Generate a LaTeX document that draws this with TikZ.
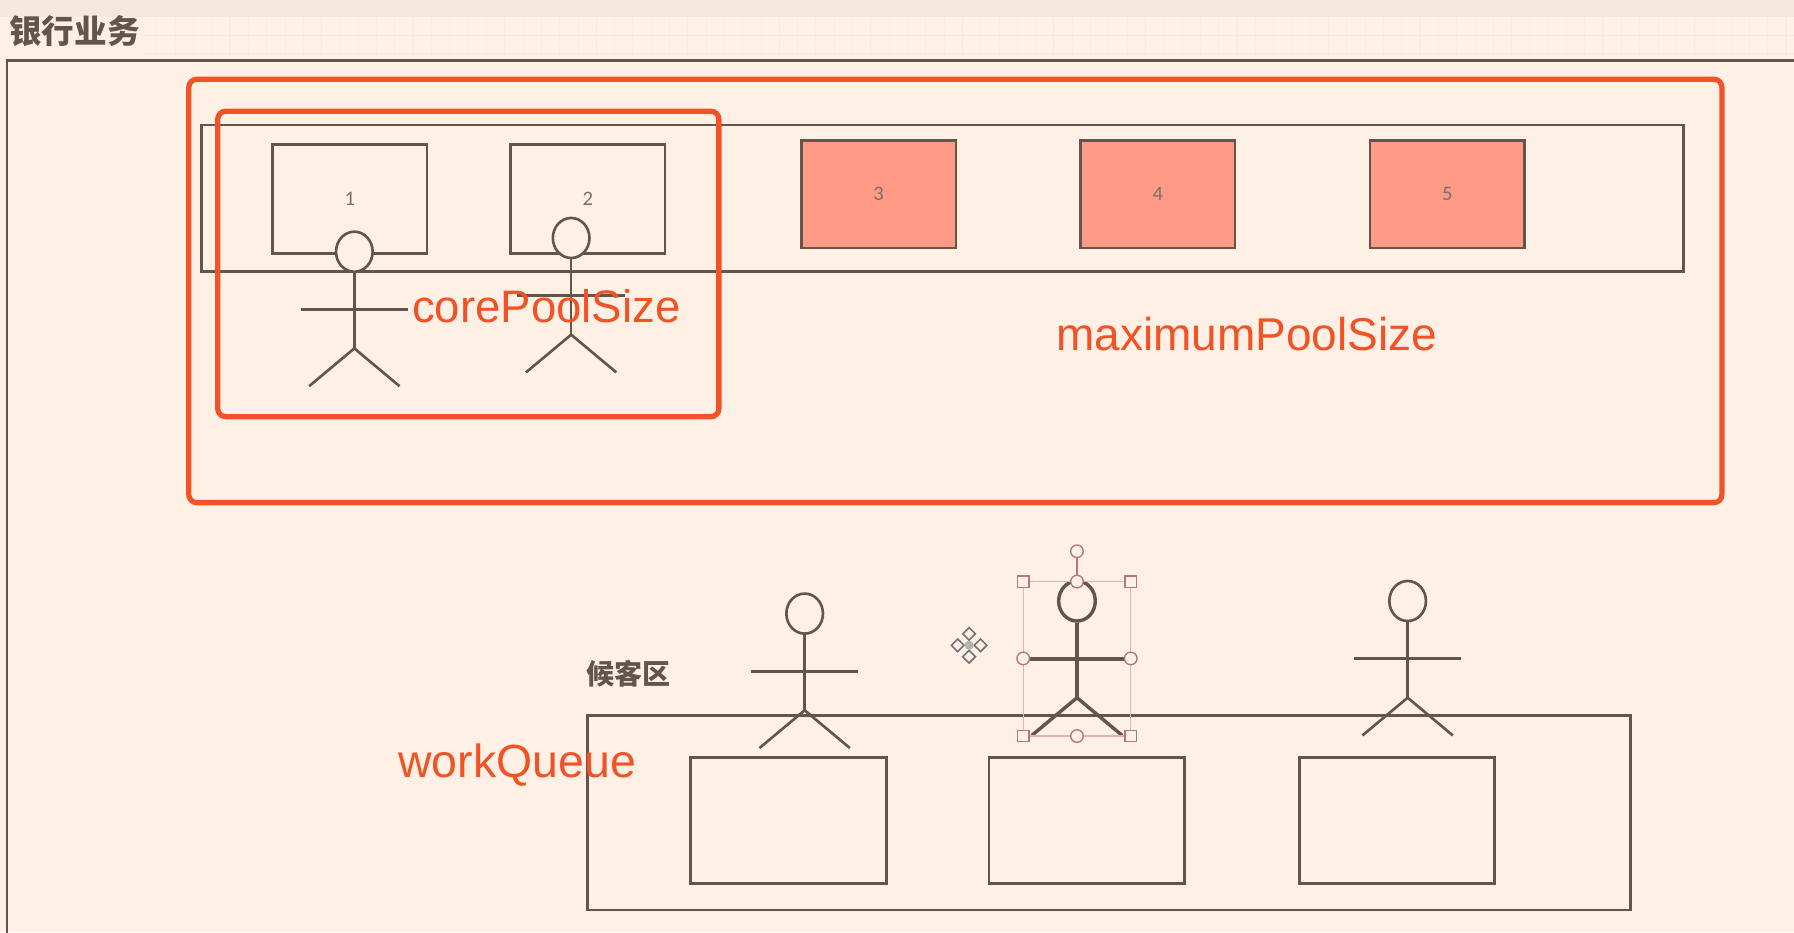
\documentclass[tikz,border=0pt]{standalone}
\usepackage{fontspec}
\setmainfont{Liberation Sans}
\newfontfamily\cjkfont{Noto Sans CJK SC}
\newfontfamily\numfont{Carlito}
\usetikzlibrary{shapes.geometric}
\definecolor{bg}{HTML}{FFF0E6}
\definecolor{topbar}{HTML}{F3E7DE}
\definecolor{gridc}{HTML}{F8EAE0}
\definecolor{ink}{HTML}{62564C}
\definecolor{brand}{HTML}{F15326}
\definecolor{salmon}{HTML}{FF9A87}
\definecolor{handle}{HTML}{B8757A}
\definecolor{selline}{HTML}{E0B3AC}
\tikzset{
  x=1pt,y=-1pt,
  desk/.style={draw=ink,line width=2.4pt,inner sep=0pt,rectangle},
  busy/.style={desk,fill=salmon},
  hl/.style={draw=brand,line width=4.6pt,rounded corners=7pt,inner sep=0pt,rectangle},
  note/.style={text=brand,font=\fontsize{39.8}{44}\selectfont,anchor=base west,inner sep=0pt},
  cap/.style={text=ink,font=\cjkfont\bfseries\fontsize{#1}{#1}\selectfont,anchor=west,inner sep=0pt},
  num/.style={text=ink!85,font=\numfont\fontsize{18}{18}\selectfont,inner sep=0pt},
  headshape/.style={ellipse,draw=ink,fill=bg,inner sep=0pt,minimum width=32pt,minimum height=35pt},
  sq/.style={rectangle,draw=handle,fill=bg,line width=1.2pt,minimum size=10pt,inner sep=0pt},
  ci/.style={circle,draw=handle,fill=bg,line width=1.2pt,minimum size=11pt,inner sep=0pt},
}
% #1 name, #2 x, #3 y of the head centre, #4 line width
\newcommand{\stickman}[4]{%
  \coordinate (#1hip) at (#2,#3+84.5);
  \coordinate (#1al) at (#2-47,#3+50.5);
  \coordinate (#1ar) at (#2+47,#3+50.5);
  \coordinate (#1fl) at (#2-39.5,#3+117.5);
  \coordinate (#1fr) at (#2+39.5,#3+117.5);
  \node[headshape,line width=#4] (#1head) at (#2,#3) {};
  \draw[draw=ink,line width=#4] (#1head.south) -- (#1hip);
  \draw[draw=ink,line width=#4] (#1al) -- (#1ar);
  \draw[draw=ink,line width=#4,line join=round] (#1fl) -- (#1hip) -- (#1fr);
}
\begin{document}
\begin{tikzpicture}
\useasboundingbox (0,0) rectangle (1568,814.6);
\fill[bg] (0,0) rectangle (1568,814.6);
\fill[topbar] (0,0) rectangle (1568,15);
% faint grid of the header
\begin{scope}
  \clip (125,15) rectangle (1568,49);
  \foreach \gx in {0,...,98} \draw[gridc!60!bg,line width=.5pt] (121+16*\gx,15) -- (121+16*\gx,49);
  \foreach \gx in {0,...,18} \draw[gridc,line width=1pt] (121+80*\gx,15) -- (121+80*\gx,49);
  \foreach \gy in {31,47} \draw[gridc,line width=.7pt] (125,\gy) -- (1568,\gy);
\end{scope}
\node[cap=28.5] (title) at (8,27) {银行业务};
% open outer frame
\coordinate (frameTR) at (1570,53);
\coordinate (frameTL) at (6,53);
\coordinate (frameBL) at (6,817);
\draw[draw=ink,line width=2.2pt] (frameTR) -- (frameTL) -- (frameBL);

% thread pool row
\node[desk,minimum width=1295pt,minimum height=128pt] (pool) at (823.7,173.3) {};
\node[desk,minimum width=135pt,minimum height=95pt,num] (d1) at (305.7,173.8) {1};
\node[desk,minimum width=135pt,minimum height=95pt,num] (d2) at (513.7,173.8) {2};
\node[busy,minimum width=135pt,minimum height=94pt,num] (d3) at (768,169.7) {3};
\node[busy,minimum width=135pt,minimum height=94pt,num] (d4) at (1012,169.7) {4};
\node[busy,minimum width=135pt,minimum height=94pt,num] (d5) at (1265,169.7) {5};
\stickman{p1}{309.7}{220}{2.3pt}
\stickman{p2}{499.2}{208}{2.3pt}

% waiting area
\node[cap=24.5] (wait) at (512.5,589) {候客区};
\node[desk,minimum width=912pt,minimum height=170pt] (queue) at (969.4,710.3) {};
\node[desk,minimum width=171pt,minimum height=110pt] (q1) at (689,717.3) {};
\node[desk,minimum width=171pt,minimum height=110pt] (q2) at (950,717.3) {};
\node[desk,minimum width=171pt,minimum height=110pt] (q3) at (1221,717.3) {};
\stickman{w1}{703.3}{536.3}{2.3pt}
\stickman{w2}{941.3}{525.3}{3pt}
\stickman{w3}{1230.3}{525.3}{2.3pt}

% selection handles on the middle figure
\coordinate (selTL) at (894.3,508.3);
\coordinate (selTR) at (988.3,508.3);
\coordinate (selBR) at (988.3,643.3);
\coordinate (selBL) at (894.3,643.3);
\draw[selline,line width=1pt] (selTL) rectangle (selBR);
\node[ci] (rot) at (941.3,481.8) {};
\node[ci] (hT) at (941.3,508.3) {};
\draw[handle,line width=1pt] (rot) -- (hT);
\node[ci] (hL) at (894.3,575.5) {};
\node[ci] (hR) at (988.3,575.5) {};
\node[ci] (hB) at (941.3,643.3) {};
\node[sq] (h1) at (selTL) {};
\node[sq] (h2) at (selTR) {};
\node[sq] (h3) at (selBR) {};
\node[sq] (h4) at (selBL) {};

% move cursor
\foreach \dx/\dy in {0/-10,0/10,-10/0,10/0}
  \draw[draw=gray!70!ink,fill=bg,line width=1.4pt]
    (847+\dx-5.5,564+\dy) -- (847+\dx,564+\dy-5.5) -- (847+\dx+5.5,564+\dy) -- (847+\dx,564+\dy+5.5) -- cycle;
\fill[gray!60] (847,564) circle (4pt);

% highlights
\node[hl,minimum width=1340pt,minimum height=370pt] (maxbox) at (835,254.3) {};
\node[hl,minimum width=438pt,minimum height=267pt] (corebox) at (409.3,230.7) {};
\node[note] (coreT) at (360,282) {corePoolSize};
\node[note,font=\fontsize{40.2}{44}\selectfont] (maxT) at (923,306.5) {maximumPoolSize};
\node[note,font=\fontsize{40.6}{44}\selectfont] (wqT) at (348,679.5) {workQueue};
\end{tikzpicture}
\end{document}
